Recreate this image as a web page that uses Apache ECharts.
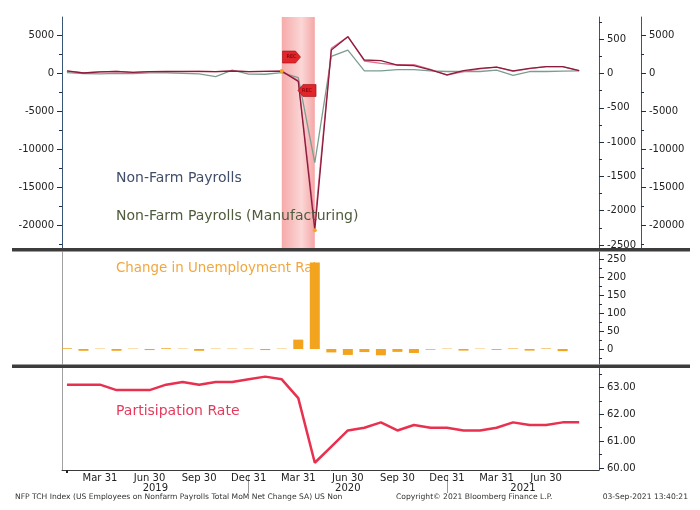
<!DOCTYPE html>
<html>
<head>
<meta charset="utf-8">
<title>Non-Farm Payrolls</title>
<script src="https://cdn.jsdelivr.net/npm/echarts@6/dist/echarts.min.js"></script>
<style>
  html, body { margin: 0; padding: 0; background: #fff; }
  #chart { width: 700px; height: 510px; }
</style>
</head>
<body>
<div id="chart"></div>
<script>
// monthly points, Jan 2019 .. Aug 2021
const months = [
  '2019-01', '2019-02', '2019-03', '2019-04', '2019-05', '2019-06', '2019-07', '2019-08', '2019-09', '2019-10', '2019-11', '2019-12',
  '2020-01', '2020-02', '2020-03', '2020-04', '2020-05', '2020-06', '2020-07', '2020-08', '2020-09', '2020-10', '2020-11', '2020-12',
  '2021-01', '2021-02', '2021-03', '2021-04', '2021-05', '2021-06', '2021-07', '2021-08'
];

// thousands
const nfpTotal = [
  269, 1, 147, 210, 85, 182, 194, 207, 208, 185, 261, 184,
  214, 251, -1100, -20679, 3030, 4780, 1710, 1620, 1050, 960, 400, -250,
  300, 610, 780, 270, 610, 850, 850, 300
];
const nfpPrivate = [
  260, 10, 140, 200, 80, 170, 180, 190, 200, 170, 250, 180,
  220, 240, -1000, -19800, 3250, 4780, 1580, 1270, 1050, 1100, 480, -280,
  170, 530, 760, 220, 580, 830, 830, 300
];
const nfpManufacturing = [
  13, 1, -4, 4, 1, 10, 10, 5, -5, -43, 50, -8,
  -10, 15, -60, -1300, 250, 343, 40, 40, 58, 58, 40, 30,
  33, 30, 50, -25, 30, 30, 35, 40
];
const unemploymentChange = [
  2, -5, 1, -5, 1, -3, 2, 1, -5, 1, 1, 1,
  -3, 1, 26, 240, -9.5, -16.5, -8.5, -17.5, -8, -11, -2, 1,
  -4.5, 1, -2.5, 1.5, -4.5, 1.5, -6, null
];
const participationRate = [
  63.1, 63.1, 63.1, 62.9, 62.9, 62.9, 63.1, 63.2, 63.1, 63.2, 63.2, 63.3,
  63.4, 63.3, 62.6, 60.2, 60.8, 61.4, 61.5, 61.7, 61.4, 61.6, 61.5, 61.5,
  61.4, 61.4, 61.5, 61.7, 61.6, 61.6, 61.7, 61.7
];

// tick labels
const quarterLabels = { 3: 'Mar 31', 6: 'Jun 30', 9: 'Sep 30', 12: 'Dec 31' };
const nfpTicks = [5000, 0, -5000, -10000, -15000, -20000];
const mfgTicks = [500, 0, -500, -1000, -1500, -2000, -2500];
const unempTicks = [0, 50, 100, 150, 200, 250];
const partTicks = [60, 61, 62, 63];

const recessionStart = '2020-02';
const recessionEnd = '2020-04';

// axis ranges
const xMin = -0.3, xMax = 32.2;
const nfpRange = [-23158, 7368];
const mfgRange = [-2558, 825];
const unempRange = [-41.7, 269.4];
const partRange = [59.93, 63.72];

const idx = (m) => months.indexOf(m);
const pairs = (arr) => arr.map((v, i) => [i, v]);

// minor ticks halfway between the major ones
const minorTicks = (step, range) => {
  const out = [];
  for (let k = Math.ceil(range[0] / step); k * step <= range[1]; k++) {
    if (k % 2 !== 0) out.push(+(k * step).toFixed(4));
  }
  return out;
};

// quarter ends and year label positions
const quarterIdx = [];
months.forEach((m, i) => { if (quarterLabels[+m.slice(5)]) quarterIdx.push(i); });
const yearEnds = months.map((m, i) => m.endsWith('-12') ? i : null).filter(v => v !== null);
const yearNames = [...new Set(months.map(m => m.slice(0, 4)))];
const bounds = [xMin, ...yearEnds, xMax];
const yearPos = yearNames.map((y, k) => (bounds[k] + bounds[k + 1]) / 2);

const axisBlue = '#3a5676';
const labelStyle = { color: '#222', fontSize: 10, fontFamily: 'DejaVu Sans' };

const hiddenX = (grid) => ({
  type: 'value', gridIndex: grid, min: xMin, max: xMax, show: false,
  axisLine: { onZero: false }
});

const majorY = (grid, pos, range, ticks, fmt, offset) => ({
  type: 'value', gridIndex: grid, position: pos, offset: offset || 0,
  min: range[0], max: range[1],
  axisLine: { show: true, onZero: false, lineStyle: { color: axisBlue, width: 1 } },
  axisTick: { show: true, customValues: ticks, length: 5, lineStyle: { color: '#1f2f44' } },
  axisLabel: { show: true, customValues: ticks, margin: 8, formatter: fmt || (v => String(v)), ...labelStyle },
  splitLine: { show: false }
});

const minorY = (grid, pos, range, ticks, offset) => ({
  type: 'value', gridIndex: grid, position: pos, offset: offset || 0,
  min: range[0], max: range[1],
  axisLine: { show: false, onZero: false },
  axisTick: { show: true, customValues: ticks, length: 3, lineStyle: { color: '#1f2f44' } },
  axisLabel: { show: false },
  splitLine: { show: false }
});

const plainY = (grid, range) => ({
  type: 'value', gridIndex: grid, position: 'left', min: range[0], max: range[1],
  axisLine: { show: true, onZero: false, lineStyle: { color: '#a0a0a0', width: 1 } },
  axisTick: { show: false }, axisLabel: { show: false }, splitLine: { show: false }
});

const recPath = 'path://M0,0L13,0L18,6L13,12L0,12Z';
const recPathLeft = 'path://M5,0L18,0L18,12L5,12L0,6Z';
const recMark = (coord, path) => ({
  coord: coord, symbol: path, symbolSize: [18, 12],
  itemStyle: { color: '#e2242b', borderColor: '#9c1014', borderWidth: 0.6 },
  label: { show: true, position: 'inside', formatter: 'REC', fontSize: 5, color: '#6a0000', fontFamily: 'DejaVu Sans' }
});
const dotMark = (i) => ({
  coord: [i, nfpTotal[i]], symbol: 'circle', symbolSize: 4,
  itemStyle: { color: '#f5a623' }, label: { show: false }
});

const footerStyle = { fontSize: 7.6, fontWeight: 'normal', color: '#333', fontFamily: 'DejaVu Sans' };

const chart = echarts.init(document.getElementById('chart'));

const option = {
  animation: false,
  backgroundColor: '#fff',
  textStyle: { fontFamily: 'DejaVu Sans' },
  grid: [
    { left: 62, width: 537, top: 17, height: 232 },
    { left: 62, width: 537, top: 252, height: 112 },
    { left: 62, width: 537, top: 368, height: 102 }
  ],
  xAxis: [
    hiddenX(0),
    hiddenX(1),
    {
      type: 'value', gridIndex: 2, min: xMin, max: xMax,
      axisLine: { show: true, onZero: false, lineStyle: { color: '#3a3a3a', width: 1 } },
      axisTick: { show: true, customValues: [0], length: 3, lineStyle: { color: '#222', width: 2 } },
      axisLabel: {
        show: true, customValues: quarterIdx, margin: 3,
        formatter: v => quarterLabels[+months[Math.round(v)].slice(5)],
        ...labelStyle
      },
      splitLine: { show: false }
    },
    {
      type: 'value', gridIndex: 2, min: xMin, max: xMax, position: 'bottom', offset: 5,
      axisLine: { show: false, onZero: false },
      axisTick: { show: true, customValues: yearEnds, length: 18, lineStyle: { color: '#9a9a9a' } },
      axisLabel: {
        show: true, customValues: yearPos, margin: 8,
        formatter: v => yearNames[yearPos.findIndex(p => Math.abs(p - v) < 0.01)],
        ...labelStyle
      },
      splitLine: { show: false }
    }
  ],
  yAxis: [
    majorY(0, 'left', nfpRange, nfpTicks),                       // 0
    minorY(0, 'left', nfpRange, minorTicks(2500, nfpRange)),      // 1
    majorY(0, 'right', mfgRange, mfgTicks),                      // 2
    minorY(0, 'right', mfgRange, minorTicks(250, mfgRange)),      // 3
    majorY(0, 'right', nfpRange, nfpTicks, null, 42),            // 4
    minorY(0, 'right', nfpRange, minorTicks(2500, nfpRange), 42), // 5
    majorY(1, 'right', unempRange, unempTicks),                  // 6
    minorY(1, 'right', unempRange, minorTicks(25, unempRange)),   // 7
    plainY(1, unempRange),                                       // 8
    majorY(2, 'right', partRange, partTicks, v => v.toFixed(2)), // 9
    minorY(2, 'right', partRange, minorTicks(0.5, partRange)),    // 10
    plainY(2, partRange)                                         // 11
  ],
  legend: [
    {
      left: 111, top: 171, orient: 'vertical', itemGap: 24, padding: 0,
      itemWidth: 0, itemHeight: 0, icon: 'none', selectedMode: false,
      textStyle: { fontSize: 14, fontFamily: 'DejaVu Sans' },
      data: [
        { name: 'Non-Farm Payrolls', textStyle: { color: '#414e69' } },
        { name: 'Non-Farm Payrolls (Manufacturing)', textStyle: { color: '#4e5b3c' } }
      ]
    },
    {
      // the source cuts this caption off behind the tall April bar
      left: 111, top: 262, padding: 0,
      itemWidth: 0, itemHeight: 0, icon: 'none', selectedMode: false,
      textStyle: { fontSize: 13.4, fontFamily: 'DejaVu Sans', width: 205, overflow: 'truncate', ellipsis: '' },
      data: [{ name: 'Change in Unemployment Rate', textStyle: { color: '#f1a73e' } }]
    },
    {
      left: 111, top: 404, padding: 0,
      itemWidth: 0, itemHeight: 0, icon: 'none', selectedMode: false,
      textStyle: { fontSize: 14, fontFamily: 'DejaVu Sans' },
      data: [{ name: 'Partisipation Rate', textStyle: { color: '#e63a5c' } }]
    }
  ],
  title: [
    {
      text: 'NFP TCH Index (US Employees on Nonfarm Payrolls Total MoM Net Change SA) US Non',
      left: 15, top: 493, padding: 0, textStyle: footerStyle
    },
    {
      text: 'Copyright\u00a9 2021 Bloomberg Finance L.P.',
      left: 396, top: 493, padding: 0, textStyle: footerStyle
    },
    {
      text: '03-Sep-2021 13:40:21',
      right: 12, top: 493, padding: 0, textStyle: footerStyle
    }
  ],
  graphic: [
    { type: 'rect', shape: { x: 12, y: 248, width: 678, height: 3.5 }, style: { fill: '#3c3c3c' }, z: 10 },
    { type: 'rect', shape: { x: 12, y: 364.5, width: 678, height: 3.5 }, style: { fill: '#3c3c3c' }, z: 10 }
  ],
  series: [
    {
      name: 'recession', type: 'line', xAxisIndex: 0, yAxisIndex: 0, data: [], z: 1, silent: true,
      markArea: {
        silent: true,
        itemStyle: {
          color: {
            type: 'linear', x: 0, y: 0, x2: 1, y2: 0,
            colorStops: [
              { offset: 0, color: '#f6aaaa' },
              { offset: 0.6, color: '#fbd6d6' },
              { offset: 1, color: '#f5a6a6' }
            ]
          }
        },
        data: [[{ xAxis: idx(recessionStart) }, { xAxis: idx(recessionEnd) }]]
      }
    },
    {
      name: 'Non-Farm Payrolls (Manufacturing)', type: 'line', xAxisIndex: 0, yAxisIndex: 2,
      data: pairs(nfpManufacturing), symbol: 'none', z: 3,
      lineStyle: { color: '#7b9d91', width: 1.3 }, itemStyle: { color: '#7b9d91' }
    },
    {
      name: 'Non-Farm Payrolls (Private)', type: 'line', xAxisIndex: 0, yAxisIndex: 4,
      data: pairs(nfpPrivate), symbol: 'none', z: 3,
      lineStyle: { color: '#e2708c', width: 1.3 }, itemStyle: { color: '#e2708c' }
    },
    {
      name: 'Non-Farm Payrolls', type: 'line', xAxisIndex: 0, yAxisIndex: 0,
      data: pairs(nfpTotal), symbol: 'none', z: 3,
      lineStyle: { color: '#8a1d3e', width: 1.3 }, itemStyle: { color: '#8a1d3e' },
      markPoint: {
        silent: true,
        data: [
          recMark([13.59, 2100], recPath),
          recMark([14.53, -2300], recPathLeft),
          dotMark(idx(recessionStart)),
          dotMark(idx(recessionEnd))
        ]
      }
    },
    {
      // own layer so the tall bar covers the end of its caption, as in the source
      name: 'Change in Unemployment Rate', type: 'bar', xAxisIndex: 1, yAxisIndex: 6,
      data: pairs(unemploymentChange), barWidth: 10, zlevel: 1, z: 3,
      itemStyle: { color: '#f2a41e' }
    },
    {
      name: 'Partisipation Rate', type: 'line', xAxisIndex: 2, yAxisIndex: 9,
      data: pairs(participationRate), symbol: 'none', z: 3,
      lineStyle: { color: '#e8304f', width: 2.5 }, itemStyle: { color: '#e8304f' }
    }
  ]
};

chart.setOption(option);
</script>
</body>
</html>
